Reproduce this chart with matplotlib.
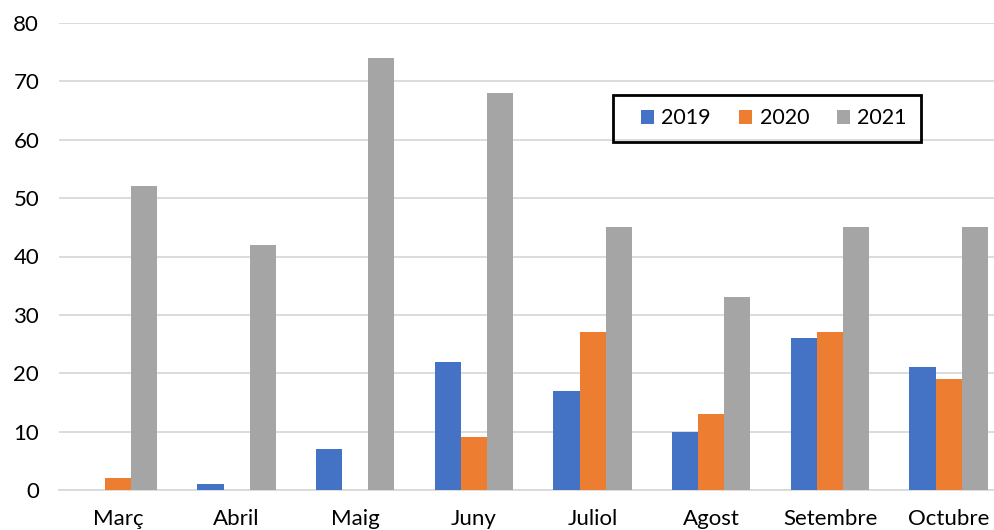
import matplotlib
matplotlib.use("Agg")
import matplotlib.pyplot as plt
from matplotlib.patches import Rectangle
import numpy as np

months = ["Març", "Abril", "Maig", "Juny", "Juliol", "Agost", "Setembre", "Octubre"]
v2019 = [0, 1, 7, 22, 17, 10, 26, 21]
v2020 = [2, 0, 0, 9, 27, 13, 27, 19]
v2021 = [52, 42, 74, 68, 45, 33, 45, 45]
series = [("2019", v2019, "#4472C4"), ("2020", v2020, "#ED7D31"), ("2021", v2021, "#A5A5A5")]
yticks = [0, 10, 20, 30, 40, 50, 60, 70, 80]

plt.rcParams['font.family'] = ['Lato', 'DejaVu Sans']

fig = plt.figure(figsize=(9.95, 5.3), dpi=100)
W, H = 995, 530
ax = fig.add_axes([58.6 / W, 1 - 490 / H, (1008 - 58.6) / W, (490 - 23) / H])

x = np.arange(len(months))
bw = 0.22
for i, (name, vals, col) in enumerate(series):
    ax.bar(x + (i - 1) * bw, vals, bw, color=col, label=name, zorder=3)

ax.set_xlim(-0.5, len(months) - 0.5)
ax.set_ylim(0, 80)
ax.set_yticks(yticks)
ax.set_xticks(x)
ax.set_xticklabels(months)
ax.tick_params(axis='both', length=0, labelsize=16, colors='black')
ax.tick_params(axis='y', pad=14)
ax.tick_params(axis='x', pad=14)
ax.yaxis.grid(True, color='#D9D9D9', linewidth=1.3, zorder=0)
for s in ['top', 'right', 'left']:
    ax.spines[s].set_visible(False)
ax.spines['bottom'].set_color('#D9D9D9')
ax.spines['bottom'].set_linewidth(1.3)

# legend (frameless) + separate box
fs = 15.5
leg = fig.legend(loc='center left', bbox_to_anchor=(641 / W, 1 - 118.5 / H),
                 ncol=3, frameon=False, fontsize=fs, handlelength=0.6, handleheight=0.6,
                 handletextpad=0.35, columnspacing=1.3, borderpad=0, borderaxespad=0)
fig.add_artist(Rectangle((613 / W, 1 - 142 / H), (921 - 613) / W, (142 - 95) / H,
                         transform=fig.transFigure, fill=False, edgecolor='black', linewidth=2, zorder=5))

fig.savefig("out.png", dpi=100)
